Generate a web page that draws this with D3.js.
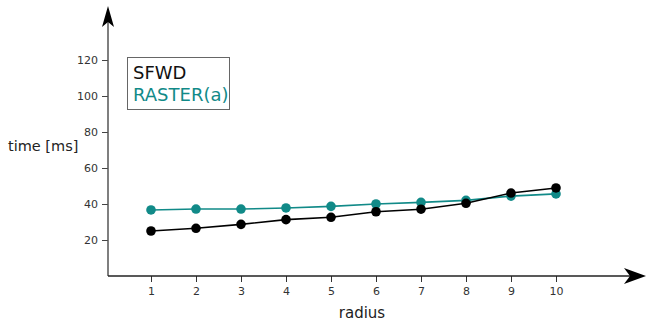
<html lang="en">
<head>
    <meta charset="UTF-8"/>
    <title>SFWD vs RASTER(a)</title>
    <script src="https://d3js.org/d3.v7.min.js"></script>
    <style>
        body { margin: 0; background: #fff; }
        text { font-family: "DejaVu Sans", sans-serif; }
    </style>
</head>
<body>
    <script>
        var radius = [1, 2, 3, 4, 5, 6, 7, 8, 9, 10];
        var sfwd = [25.0, 26.5, 28.7, 31.3, 32.6, 35.7, 37.1, 40.4, 46.1, 48.9];
        var raster = [36.7, 37.2, 37.2, 37.8, 38.7, 40.0, 40.9, 42.0, 44.4, 45.6];
        var yTicks = [20, 40, 60, 80, 100, 120];

        var w = 646;
        var h = 322;
        var originX = 108;
        var originY = 276;

        var xScale = d3.scaleLinear()
                        .domain([1, 10])
                        .range([151, 556]);

        var yScale = d3.scaleLinear()
                        .domain([0, 120])
                        .range([originY, 60]);

        var svg = d3.select("body")
                    .append("svg")
                    .attr("width", w)
                    .attr("height", h);

        // y axis
        var yAxis = d3.axisLeft(yScale)
                        .tickValues(yTicks)
                        .tickSize(6)
                        .tickPadding(4);
        var gy = svg.append("g")
            .attr("transform", "translate(" + originX + ",0)")
            .call(yAxis);
        gy.select(".domain").remove();
        gy.selectAll("line").attr("stroke", "#444");
        gy.selectAll("text").attr("font-size", 11).attr("fill", "#333");

        svg.append("line")
            .attr("x1", originX).attr("x2", originX)
            .attr("y1", originY).attr("y2", 20)
            .attr("stroke", "#555").attr("stroke-width", 1.5);
        svg.append("path")
            .attr("d", "M108,6 L114,27 L108,22 L102,27 Z")
            .attr("fill", "#000");

        // x axis
        var xAxis = d3.axisBottom(xScale)
                        .tickValues(radius)
                        .tickSize(6)
                        .tickPadding(5);
        var gx = svg.append("g")
            .attr("transform", "translate(0," + originY + ")")
            .call(xAxis);
        gx.select(".domain").remove();
        gx.selectAll("line").attr("stroke", "#333");
        gx.selectAll("text").attr("font-size", 11).attr("fill", "#333");

        svg.append("line")
            .attr("x1", originX).attr("x2", 632)
            .attr("y1", originY).attr("y2", originY)
            .attr("stroke", "#222").attr("stroke-width", 1.5);
        svg.append("path")
            .attr("d", "M646,276 L624,268 L630,276 L624,284 Z")
            .attr("fill", "#000");

        // axis labels
        svg.append("text")
            .attr("x", 8).attr("y", 151)
            .attr("font-size", 14.5).attr("fill", "#222")
            .text("time [ms]");
        svg.append("text")
            .attr("x", 362).attr("y", 318)
            .attr("text-anchor", "middle")
            .attr("font-size", 15).attr("fill", "#222")
            .text("radius");

        // lines
        var series = [
            { values: raster, color: "#118a88" },
            { values: sfwd, color: "#000000" }
        ];

        var line = d3.line()
            .x(function(d, i) { return xScale(radius[i]); })
            .y(function(d) { return yScale(d); });

        series.forEach(function(s) {
            svg.append("path")
                .datum(s.values)
                .attr("fill", "none")
                .attr("stroke", s.color)
                .attr("stroke-width", 1.6)
                .attr("d", line);
            svg.selectAll(null)
                .data(s.values)
                .enter()
                .append("circle")
                .attr("cx", function(d, i) { return xScale(radius[i]); })
                .attr("cy", function(d) { return yScale(d); })
                .attr("r", 4.8)
                .attr("fill", s.color);
        });

        // legend
        svg.append("rect")
            .attr("x", 127.5).attr("y", 57.5)
            .attr("width", 102).attr("height", 52)
            .attr("fill", "#fff")
            .attr("stroke", "#666");
        svg.append("text")
            .attr("x", 133).attr("y", 79)
            .attr("font-size", 18).attr("fill", "#111")
            .text("SFWD");
        svg.append("text")
            .attr("x", 133).attr("y", 101)
            .attr("font-size", 18).attr("fill", "#118a88")
            .text("RASTER(a)");
    </script>
</body>
</html>
